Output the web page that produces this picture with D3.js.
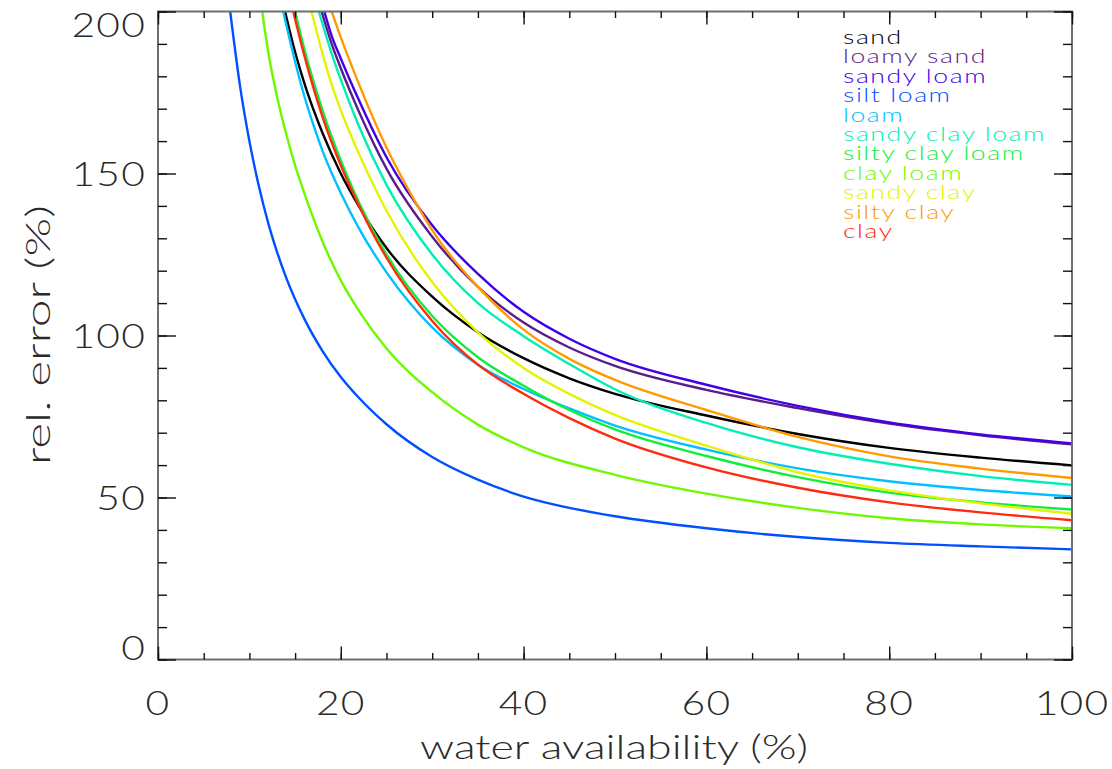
<!DOCTYPE html>
<html>
<head>
<meta charset="utf-8">
<script src="https://cdn.jsdelivr.net/npm/d3@7"></script>
<style>
  html, body { margin: 0; padding: 0; background: #fff; }
  svg { display: block; font-family: "Lato", "DejaVu Sans", sans-serif; font-weight: 300; }
</style>
</head>
<body>
<svg id="chart" width="1112" height="769"></svg>
<script>
// Soil texture classes, in legend order, with their line colours
const soilNames = ["sand", "loamy sand", "sandy loam", "silt loam", "loam",
  "sandy clay loam", "silty clay loam", "clay loam", "sandy clay", "silty clay", "clay"];
const soilColors = ["#000000", "#5b1c8c", "#4000e8", "#0050ff", "#00c0ff",
  "#00f0b4", "#10ee3c", "#70f800", "#e4f400", "#ff9a00", "#ff2a10"];

// Relative error (%) versus water availability (%), as [availability, error]
const sand = [[13.9,200],[15,187.5],[16,178],[17,169.8],[18,162.5],[20,150],[22,139.8],[25,127],[30,112],[35,101],[40,93],[45,86.8],[50,82],[60,75.3],[70,69.6],[80,65.3],[90,62.3],[100,59.9]];
const loamySand = [[17.9,200],[19,190],[20,182.5],[22,169],[25,151.5],[30,130.5],[35,115],[40,104],[45,96.3],[50,90.6],[60,83.2],[70,77.6],[80,72.8],[90,69.2],[100,66.4]];
const sandyLoam = [[18.2,200],[19,192.5],[20,185.5],[22,172.5],[25,155],[30,134],[35,119],[40,107.3],[45,99],[50,92.8],[60,84.8],[70,78.3],[80,73.2],[90,69.5],[100,66.7]];
const siltLoam = [[7.9,200],[9,176.5],[10,160],[11,146.5],[12,135.3],[13,126],[14,118],[16,105.2],[18,95.2],[20,87.2],[22,80.7],[25,72.6],[30,62.5],[35,55.5],[40,50.3],[45,46.8],[50,44.2],[60,40.5],[70,37.8],[80,36],[90,34.9],[100,34]];
const loam = [[13.7,200],[15,184.5],[16,174],[17,165],[18,157],[20,144],[22,133],[25,119.5],[30,102.5],[35,91],[40,83.5],[45,77.5],[50,72.2],[60,64.8],[70,59],[80,55],[90,52.3],[100,50.3]];
const sandyClayLoam = [[17.6,200],[19,187],[20,179],[22,164.5],[25,146.5],[30,125],[35,110],[40,99.8],[45,91.2],[50,83.4],[60,73],[70,65.5],[80,60.4],[90,56.6],[100,53.9]];
const siltyClayLoam = [[15,200],[16,188.5],[17,178.5],[18,169.5],[20,154],[22,141],[25,125],[30,106],[35,93.3],[40,84.5],[45,77],[50,71],[60,62.8],[70,56.3],[80,51.5],[90,48.5],[100,46.3]];
const clayLoam = [[11.4,200],[12,188.5],[13,174],[14,162.5],[15,152.5],[16,144],[18,129],[20,117],[22,107.5],[25,96],[30,82.5],[35,72.5],[40,65.5],[50,57],[60,51.2],[70,46.8],[80,43.6],[90,41.7],[100,40.5]];
const sandyClay = [[16.8,200],[18,187],[19,177.5],[20,169.5],[22,156],[25,138.5],[30,116.5],[35,101],[40,90],[45,82],[50,75.5],[60,66],[70,57.8],[80,52.2],[90,48.2],[100,45]];
const siltyClay = [[19,200],[20,192],[22,177.5],[25,158],[28,142],[30,132.5],[35,115],[40,101.8],[45,92.8],[50,86.3],[60,77],[70,68.7],[80,62.7],[90,58.9],[100,56]];
const clay = [[14.8,200],[16,186.5],[17,176.5],[18,167.5],[20,152.5],[22,140],[25,124],[30,104.5],[35,91],[40,82],[45,74.5],[50,68.2],[60,59.3],[70,53],[80,48.5],[90,45.4],[100,43]];

const soilSeries = [sand, loamySand, sandyLoam, siltLoam, loam, sandyClayLoam,
  siltyClayLoam, clayLoam, sandyClay, siltyClay, clay];

// Axis ticks
const xTicks = [0, 20, 40, 60, 80, 100];
const xMinorTicks = d3.range(0, 101, 5);
const yTicks = [0, 50, 100, 150, 200];
const yMinorTicks = d3.range(0, 201, 10);

const xTitle = "water availability (%)";
const yTitle = "rel. error (%)";

const plot = { left: 158, right: 1072, top: 11.5, bottom: 659.5 };

const svg = d3.select("#chart");
const x = d3.scaleLinear().domain([0, 100]).range([plot.left, plot.right]);
const y = d3.scaleLinear().domain([0, 200]).range([plot.bottom, plot.top]);

svg.append("defs").append("clipPath").attr("id", "plot-clip")
  .append("rect")
  .attr("x", plot.left).attr("y", plot.top)
  .attr("width", plot.right - plot.left).attr("height", plot.bottom - plot.top);

// Curves
const line = d3.line()
  .x(d => x(d[0]))
  .y(d => y(d[1]))
  .curve(d3.curveMonotoneX);

svg.append("g").attr("clip-path", "url(#plot-clip)")
  .selectAll("path")
  .data(soilSeries)
  .join("path")
  .attr("d", line)
  .attr("fill", "none")
  .attr("stroke", (d, i) => soilColors[i])
  .attr("stroke-width", 2.4)
  .attr("stroke-linejoin", "round");

// Frame
svg.append("rect")
  .attr("x", plot.left).attr("y", plot.top)
  .attr("width", plot.right - plot.left).attr("height", plot.bottom - plot.top)
  .attr("fill", "none").attr("stroke", "#6e6e6e").attr("stroke-width", 2);

// Inward ticks on all four sides
function tickAxis(gen, transform) {
  const g = svg.append("g").attr("transform", transform).call(gen);
  g.select(".domain").remove();
  g.selectAll("text").remove();
  g.selectAll("line").attr("stroke", "#111").attr("stroke-width", 1.4);
  return g;
}
const xMajorLen = 13, xMinorLen = 6.5, yMajorLen = 18, yMinorLen = 9;
tickAxis(d3.axisBottom(x).tickValues(xMinorTicks).tickSize(-xMinorLen), `translate(0,${plot.bottom})`);
tickAxis(d3.axisBottom(x).tickValues(xTicks).tickSize(-xMajorLen), `translate(0,${plot.bottom})`);
tickAxis(d3.axisTop(x).tickValues(xMinorTicks).tickSize(-xMinorLen), `translate(0,${plot.top})`);
tickAxis(d3.axisTop(x).tickValues(xTicks).tickSize(-xMajorLen), `translate(0,${plot.top})`);
tickAxis(d3.axisLeft(y).tickValues(yMinorTicks).tickSize(-yMinorLen), `translate(${plot.left},0)`);
tickAxis(d3.axisLeft(y).tickValues(yTicks).tickSize(-yMajorLen), `translate(${plot.left},0)`);
tickAxis(d3.axisRight(y).tickValues(yMinorTicks).tickSize(-yMinorLen), `translate(${plot.right},0)`);
tickAxis(d3.axisRight(y).tickValues(yTicks).tickSize(-yMajorLen), `translate(${plot.right},0)`);

// Tick labels: wide, thin lettering
const labelColor = "#2a2a2a";
const tickFont = 34;
const wide = 1.2;
svg.append("g").selectAll("text")
  .data(xTicks)
  .join("text")
  .attr("transform", d => `translate(${x(d)},715) scale(${wide},1)`)
  .attr("text-anchor", "middle")
  .attr("font-size", tickFont)
  .attr("letter-spacing", 1)
  .attr("fill", labelColor)
  .text(d => d);

const digitHalf = 12.5;
svg.append("g").selectAll("text")
  .data(yTicks)
  .join("text")
  .attr("transform", d => {
    const cy = Math.min(Math.max(y(d), plot.top + digitHalf), plot.bottom - digitHalf);
    return `translate(146,${cy + digitHalf}) scale(${wide},1)`;
  })
  .attr("text-anchor", "end")
  .attr("font-size", tickFont)
  .attr("letter-spacing", 1)
  .attr("fill", labelColor)
  .text(d => d);

// Axis titles
svg.append("text")
  .attr("x", 420)
  .attr("y", 759)
  .attr("font-size", 34)
  .attr("textLength", 388)
  .attr("lengthAdjust", "spacingAndGlyphs")
  .attr("fill", labelColor)
  .text(xTitle);

svg.append("text")
  .attr("transform", `translate(50,465) rotate(-90)`)
  .attr("font-size", 34)
  .attr("textLength", 260)
  .attr("lengthAdjust", "spacingAndGlyphs")
  .attr("fill", labelColor)
  .text(yTitle);

// Legend
svg.append("g")
  .attr("transform", "translate(843,0) scale(1.3,1)")
  .selectAll("text")
  .data(soilNames)
  .join("text")
  .attr("x", 0)
  .attr("y", (d, i) => 44 + i * 19.4)
  .attr("font-size", 20.5)
  .attr("letter-spacing", 1.2)
  .attr("fill", (d, i) => soilColors[i])
  .text(d => d);
</script>
</body>
</html>
